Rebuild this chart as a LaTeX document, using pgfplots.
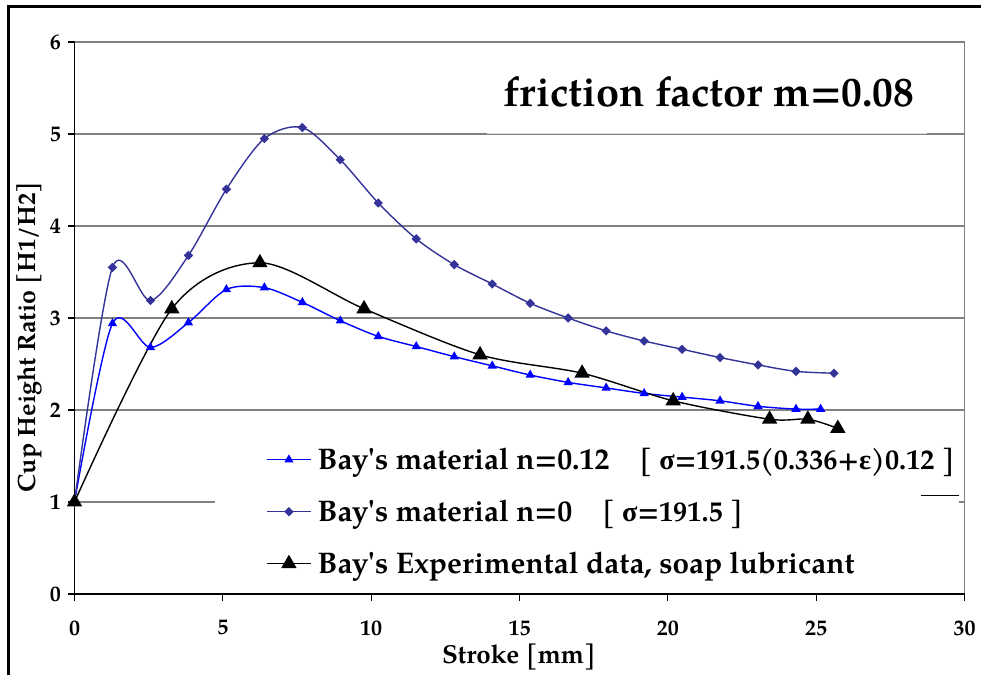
\documentclass[border=0pt]{standalone}
\usepackage{fontspec}
\setmainfont{TeX Gyre Pagella}
\newfontfamily\greekfont{Liberation Serif}
\usepackage{pgfplots}
\pgfplotsset{compat=1.18}
\definecolor{navyline}{HTML}{333399}
\definecolor{gridgray}{HTML}{808080}
\newcommand\law[1]{{\fontsize{28.3}{34}\selectfont #1}}

\begin{document}
\begin{tikzpicture}[x=1pt,y=1pt]
\path[use as bounding box, fill=white] (0,0) rectangle (981,675);
\begin{axis}[
  at={(74.5pt,81pt)}, anchor=south west,
  scale only axis, width=890pt, height=552pt,
  xmin=0, xmax=30, ymin=0, ymax=6,
  xtick={0,5,...,30}, ytick={0,1,...,6},
  xtick pos=bottom, ytick pos=left,
  axis line style={draw=none},
  tick align=outside, major tick length=7pt,
  tick style={black, line width=1.3pt},
  ymajorgrids, grid style={gridgray, line width=1.8pt},
  clip=false,
  /pgf/number format/assume math mode=true,
  ticklabel style={font=\fontsize{22}{26}\selectfont\bfseries},
  xticklabel style={yshift=-16pt},
  yticklabel style={xshift=-3pt},
  legend cell align=left,
  legend style={at={(0.2152,0.2680)}, anchor=north west, draw=none, fill=none,
    inner sep=0pt, row sep=25pt, column sep=4pt,
    font=\fontsize{29.8}{34}\selectfont\bfseries},
  legend image code/.code={\draw[mark repeat=2,mark phase=2,#1]
    plot coordinates {(0pt,0pt) (22pt,0pt) (44pt,0pt)};},
]
% white boxes behind the title and the legend
\fill[white] (axis cs:13.89,5.03) rectangle (axis cs:28.72,5.96);
\draw[gray!25, line width=1pt] (axis cs:13.89,5.0) -- (axis cs:28.72,5.0);
\fill[white] (axis cs:4.74,0.10) rectangle (axis cs:29.81,1.67);
\draw[black, line width=1pt] (axis cs:28.53,1.076) -- (axis cs:29.81,1.076);

\addplot[blue, line width=1.4pt, smooth, mark=triangle*, mark size=4pt,
  mark options={solid}] table {
x y
0 1
1.28 2.94
2.56 2.68
3.84 2.95
5.12 3.31
6.40 3.33
7.68 3.17
8.96 2.97
10.24 2.80
11.52 2.69
12.80 2.58
14.08 2.48
15.36 2.38
16.64 2.30
17.92 2.24
19.20 2.18
20.48 2.14
21.76 2.10
23.04 2.04
24.32 2.01
25.15 2.01
};
\addlegendentry{Bay\textquotesingle s material n=0.12\hspace{30pt}\law{[ {\greekfont σ}=191.5(0.336+{\greekfont ε})0.12 ]}}

\addplot[navyline, line width=1.4pt, smooth, mark=square*, mark size=2.6pt,
  mark options={solid, rotate=45}] table {
x y
0 1
1.28 3.55
2.56 3.19
3.84 3.68
5.12 4.40
6.40 4.95
7.68 5.07
8.96 4.72
10.24 4.25
11.52 3.86
12.80 3.58
14.08 3.37
15.36 3.16
16.64 3.00
17.92 2.86
19.20 2.75
20.48 2.66
21.76 2.57
23.04 2.49
24.32 2.42
25.60 2.40
};
\addlegendentry{Bay\textquotesingle s material n=0\hspace{30pt}\law{[ {\greekfont σ}=191.5 ]}}

\addplot[black, line width=1.4pt, smooth, mark=triangle*, mark size=7.5pt,
  mark options={solid}] table {
x y
0 1
3.28 3.10
6.25 3.60
9.76 3.10
13.67 2.60
17.11 2.40
20.18 2.10
23.43 1.90
24.72 1.90
25.73 1.80
};
\addlegendentry{Bay\textquotesingle s Experimental data, soap lubricant}

% plot frame: gray top and right, black left and bottom
\draw[gridgray, line width=1.5pt] (rel axis cs:0,1) -- (rel axis cs:1,1) -- (rel axis cs:1,0);
\draw[black, line width=1.5pt] (rel axis cs:0,1) -- (rel axis cs:0,0) -- (rel axis cs:1,0);
\end{axis}

\node[anchor=base west, inner sep=0pt, font=\fontsize{41.5}{50}\selectfont\bfseries]
  at (503,568) {friction factor m=0.08};
\node[rotate=90, font=\fontsize{25}{30}\selectfont\bfseries] at (29,338)
  {Cup Height Ratio [H1/H2]};
\node[font=\fontsize{26}{30}\selectfont\bfseries] at (519,18) {Stroke [mm]};

% outer frame
\draw[line width=3pt] (8,0) -- (8,668) -- (981,668);
\end{tikzpicture}
\end{document}
